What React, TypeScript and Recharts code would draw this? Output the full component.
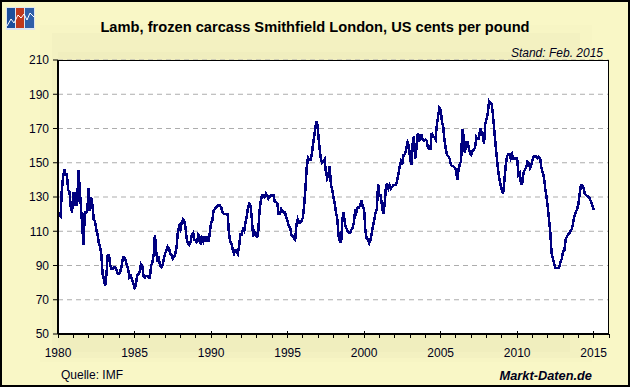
import React from "react";
import { LineChart, Line, XAxis, YAxis, CartesianGrid } from "recharts";

const prices1980s = [
  118, 120, 119, 134, 142, 146, 143, 143, 134, 133, 124, 121,
  133, 125, 133, 125, 146, 135, 124, 113, 102, 121, 121, 122,
  135, 122, 130, 125, 117, 116, 111, 108, 103, 101, 96, 85,
  82, 78, 85, 96, 96, 90, 88, 88, 89, 89, 87, 85,
  85, 87, 90, 95, 95, 93, 90, 88, 83, 84, 82, 80,
  77, 78, 84, 85, 86, 91, 90, 84, 83, 84, 84, 83,
  83, 90, 92, 96, 108, 98, 92, 94, 90, 89, 90, 94,
  97, 99, 101, 100, 97, 96, 94, 95, 97, 101, 110, 113,
  111, 115, 117, 116, 112, 105, 103, 102, 104, 108, 109, 105,
  105, 103, 108, 107, 102, 106, 104, 107, 104, 107, 104, 109,
];
const prices1990s = [
  115, 116, 122, 123, 124, 125, 125, 125, 124, 121, 120, 120,
  120, 120, 109, 104, 103, 99, 97, 99, 99, 97, 101, 108,
  108, 111, 110, 115, 119, 124, 126, 125, 117, 107, 110, 109,
  106, 110, 122, 128, 131, 131, 130, 132, 131, 129, 130, 131,
  131, 131, 127, 127, 126, 120, 120, 123, 122, 121, 121, 118,
  116, 113, 112, 108, 107, 106, 105, 114, 117, 115, 115, 116,
  118, 125, 135, 147, 153, 152, 152, 155, 161, 166, 171.5, 174.5,
  167, 159, 153, 150, 150.5, 152, 145, 141, 143, 148, 137, 134,
  130, 126, 121, 117, 107, 104, 104, 117, 121, 114, 112, 110,
  109, 109, 111, 112, 115, 123, 121, 124, 124, 125, 128, 124,
];
const prices2000s = [
  123, 110, 106, 105, 103, 105, 109, 113, 117, 121, 123, 137.5,
  131, 131, 125, 120, 125, 135, 138, 135, 137, 135, 136, 137,
  137, 137, 140, 144, 148, 151, 150, 154.5, 155, 158, 162, 160,
  153, 149, 161, 165.5, 152.5, 158, 167, 162, 166, 166, 163.5, 163,
  163.5, 163, 159, 158, 158, 167.5, 165, 165, 163.5, 172, 177, 182,
  181, 174, 171, 163.5, 158, 154.5, 154, 152.5, 149, 148, 148, 147,
  146, 140, 146, 149, 151, 169.5, 166, 155.5, 162, 162, 159, 155.5,
  154.5, 157, 157.5, 159, 165, 164, 164, 170, 168, 166, 161, 173,
  175.5, 179, 186, 185, 184.5, 178, 169.5, 161, 153.5, 146, 141, 137,
  134, 132, 140, 148, 153.5, 155, 155, 152.5, 155, 152.5, 152.5, 152.5,
];
const prices2010s = [
  152.5, 143, 144, 138, 138, 144, 146, 147, 150.5, 150, 147, 148.5,
  151.5, 153.5, 154, 153.5, 152.5, 153.5, 152.5, 147, 144.5, 141.5, 135, 130,
  124, 116.5, 109, 97, 94, 91, 88.5, 88.5, 88.5, 89, 92, 94,
  98, 99, 105, 107, 108, 109, 110.5, 111.5, 115.5, 119, 121, 123,
  126, 132, 137, 137, 135.5, 132, 131, 130.5, 130, 129, 127, 125,
  122.5,
];

const START_YEAR = 1980;
const prices = [...prices1980s, ...prices1990s, ...prices2000s, ...prices2010s];
const chartData = prices.map((price, i) => ({ year: START_YEAR + i / 12, price }));

const yearTicks = Array.from({ length: 37 }, (_, i) => START_YEAR + i);
const valueTicks = [50, 70, 90, 110, 130, 150, 170, 190, 210];

const font = '"Liberation Sans", Arial, sans-serif';
const textColor = "#00001a";

function YearTick({ x, y, payload }: any) {
  const major = payload.value % 5 === 0;
  return (
    <g>
      <line
        x1={x}
        x2={x}
        y1={major ? y - 11 : y - 8}
        y2={y - 4}
        stroke="#000"
        strokeWidth={1}
        shapeRendering="crispEdges"
      />
      {major && (
        <text x={x} y={y + 15} textAnchor="middle" fontFamily={font} fontSize={12} fill={textColor}>
          {payload.value}
        </text>
      )}
    </g>
  );
}

function Logo() {
  return (
    <svg width={29} height={23} style={{ position: "absolute", left: 4, top: 5 }}>
      <rect x={0} y={0} width={29} height={23} fill="#dfe6f0" />
      <rect x={1} y={1} width={8} height={20} fill="#1c4f9c" />
      <rect x={10} y={1} width={8} height={20} fill="#c0391b" />
      <rect x={19} y={1} width={9} height={20} fill="#2f5fa8" />
      <polyline points="1,19 5,12 8,16 12,8 15,11 18,7 21,13 24,6 28,10" fill="none" stroke="#fff" strokeWidth={1} />
    </svg>
  );
}

function Band({ left, top, right, bottom, color }: any) {
  return (
    <div
      style={{
        position: "absolute",
        left: left - 2,
        top: top - 2,
        width: right - left,
        height: bottom - top,
        background: color,
      }}
    />
  );
}

export default function App() {
  return (
    <div
      style={{
        position: "absolute",
        left: 0,
        top: 0,
        width: 630,
        height: 387,
        boxSizing: "border-box",
        border: "2px solid #000",
        background: "#f9f7c6",
        overflow: "hidden",
        fontFamily: font,
        color: textColor,
      }}
    >
      <Band left={40} top={25} right={592} bottom={362} color="#f7f5c4" />
      <Band left={52} top={33} right={580} bottom={358} color="#f3f1c1" />
      <Band left={58} top={52} right={570} bottom={352} color="#f0eebe" />
      <div style={{ position: "absolute", left: -2, top: -2 }}>
        <LineChart
          width={630}
          height={387}
          data={chartData}
          margin={{ top: 60, right: 21, bottom: 0, left: 0 }}
        >
          <CartesianGrid
            vertical={false}
            fill="#fff"
            stroke="#adadad"
            strokeDasharray="5 4"
            syncWithTicks
          />
          <XAxis
            dataKey="year"
            type="number"
            domain={[1980, 2016]}
            ticks={yearTicks}
            interval={0}
            height={53}
            tick={<YearTick />}
            tickLine={false}
            axisLine={{ stroke: "#000", strokeWidth: 2 }}
            allowDataOverflow
          />
          <YAxis
            type="number"
            domain={[50, 210]}
            ticks={valueTicks}
            interval={0}
            width={58}
            tickSize={5}
            tickMargin={4}
            tick={{ fontFamily: font, fontSize: 12, fill: textColor }}
            tickLine={{ stroke: "#000" }}
            axisLine={{ stroke: "#000", strokeWidth: 2 }}
          />
          <Line
            type="linear"
            dataKey="price"
            stroke="#000080"
            strokeWidth={2.5}
            dot={false}
            shapeRendering="crispEdges"
            isAnimationActive={false}
          />
        </LineChart>
      </div>
      <div
        style={{
          position: "absolute",
          left: 57,
          top: 58,
          width: 549,
          height: 274,
          borderTop: "1px solid #000",
          borderRight: "1px solid #000",
          pointerEvents: "none",
        }}
      />
      <Logo />
      <div
        style={{
          position: "absolute",
          left: 0,
          width: 626,
          top: 17,
          textAlign: "center",
          fontWeight: "bold",
          fontSize: 14.67,
          color: "#000",
          whiteSpace: "nowrap",
        }}
      >
        Lamb, frozen carcass Smithfield London, US cents per pound
      </div>
      <div
        style={{
          position: "absolute",
          right: 25,
          top: 44,
          fontStyle: "italic",
          fontSize: 12,
          whiteSpace: "nowrap",
        }}
      >
        Stand: Feb. 2015
      </div>
      <div style={{ position: "absolute", left: 59, top: 366, fontSize: 12, whiteSpace: "nowrap" }}>
        Quelle: IMF
      </div>
      <div
        style={{
          position: "absolute",
          right: 36,
          top: 366,
          fontStyle: "italic",
          fontWeight: "bold",
          fontSize: 12.8,
          whiteSpace: "nowrap",
        }}
      >
        Markt-Daten.de
      </div>
    </div>
  );
}
